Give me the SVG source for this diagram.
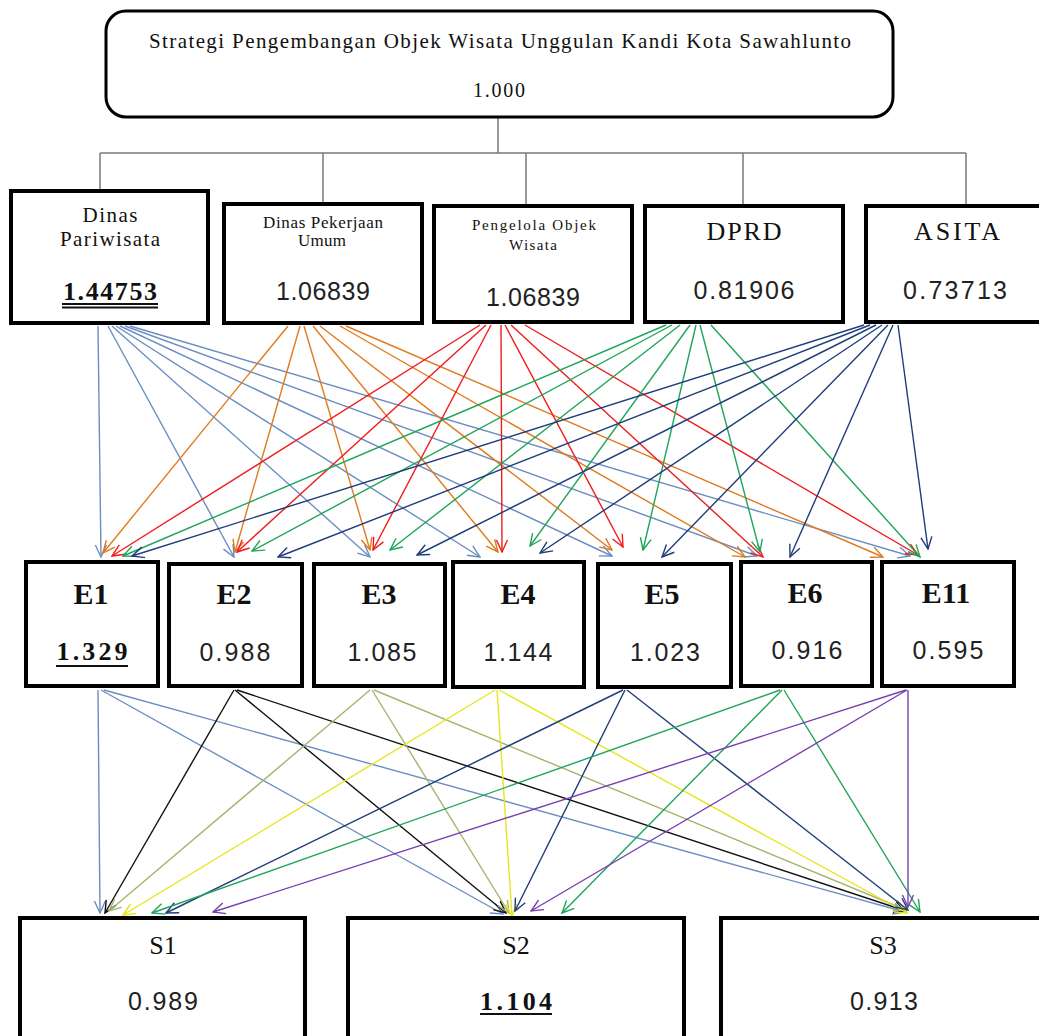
<svg xmlns="http://www.w3.org/2000/svg" width="1039" height="1036" viewBox="0 0 1039 1036">
<style>
.bg{fill:#fff}
.box{fill:#fff;stroke:#000;stroke-width:4}
.top{fill:#fff;stroke:#000;stroke-width:3}
.tree{fill:none;stroke:#7a7a7a;stroke-width:1.5}
.sf{font-family:"Liberation Serif","Times New Roman",serif;fill:#111;text-anchor:middle}
.ss{font-family:"Liberation Sans",Arial,sans-serif;fill:#222;text-anchor:middle;font-size:25px}
.b{font-weight:bold}
.ul{stroke:#111;stroke-width:2}
.c line{stroke-width:1.4;fill:none}
.blue{stroke:#6b8ec2;marker-end:url(#m-blue)}
.orange{stroke:#e07a1f;marker-end:url(#m-orange)}
.red{stroke:#f01c1c;marker-end:url(#m-red)}
.green{stroke:#1fa55a;marker-end:url(#m-green)}
.navy{stroke:#1f3d7a;marker-end:url(#m-navy)}
.black{stroke:#111;marker-end:url(#m-black)}
.olive{stroke:#a3b56e;marker-end:url(#m-olive)}
.yellow{stroke:#e6e620;marker-end:url(#m-yellow)}
.purple{stroke:#7a3fb0;marker-end:url(#m-purple)}
</style>
<defs>
<marker id="m-blue" viewBox="-13 -7 14 14" refX="0" refY="0" markerWidth="14" markerHeight="14" markerUnits="userSpaceOnUse" orient="auto"><path d="M-12,-5.5 L0,0 L-12,5.5" fill="none" stroke="#6b8ec2" stroke-width="1.4"/></marker>
<marker id="m-orange" viewBox="-13 -7 14 14" refX="0" refY="0" markerWidth="14" markerHeight="14" markerUnits="userSpaceOnUse" orient="auto"><path d="M-12,-5.5 L0,0 L-12,5.5" fill="none" stroke="#e07a1f" stroke-width="1.4"/></marker>
<marker id="m-red" viewBox="-13 -7 14 14" refX="0" refY="0" markerWidth="14" markerHeight="14" markerUnits="userSpaceOnUse" orient="auto"><path d="M-12,-5.5 L0,0 L-12,5.5" fill="none" stroke="#f01c1c" stroke-width="1.4"/></marker>
<marker id="m-green" viewBox="-13 -7 14 14" refX="0" refY="0" markerWidth="14" markerHeight="14" markerUnits="userSpaceOnUse" orient="auto"><path d="M-12,-5.5 L0,0 L-12,5.5" fill="none" stroke="#1fa55a" stroke-width="1.4"/></marker>
<marker id="m-navy" viewBox="-13 -7 14 14" refX="0" refY="0" markerWidth="14" markerHeight="14" markerUnits="userSpaceOnUse" orient="auto"><path d="M-12,-5.5 L0,0 L-12,5.5" fill="none" stroke="#1f3d7a" stroke-width="1.4"/></marker>
<marker id="m-black" viewBox="-13 -7 14 14" refX="0" refY="0" markerWidth="14" markerHeight="14" markerUnits="userSpaceOnUse" orient="auto"><path d="M-12,-5.5 L0,0 L-12,5.5" fill="none" stroke="#111" stroke-width="1.4"/></marker>
<marker id="m-olive" viewBox="-13 -7 14 14" refX="0" refY="0" markerWidth="14" markerHeight="14" markerUnits="userSpaceOnUse" orient="auto"><path d="M-12,-5.5 L0,0 L-12,5.5" fill="none" stroke="#a3b56e" stroke-width="1.4"/></marker>
<marker id="m-yellow" viewBox="-13 -7 14 14" refX="0" refY="0" markerWidth="14" markerHeight="14" markerUnits="userSpaceOnUse" orient="auto"><path d="M-12,-5.5 L0,0 L-12,5.5" fill="none" stroke="#e6e620" stroke-width="1.6"/></marker>
<marker id="m-purple" viewBox="-13 -7 14 14" refX="0" refY="0" markerWidth="14" markerHeight="14" markerUnits="userSpaceOnUse" orient="auto"><path d="M-12,-5.5 L0,0 L-12,5.5" fill="none" stroke="#7a3fb0" stroke-width="1.4"/></marker>
</defs>
<rect class="bg" x="0" y="0" width="1039" height="1036"/>

<g id="connectors" class="c">
  <g id="tree">
    <path class="tree" d="M498,118 V153 M100,153 H966 M100,153 V190 M323,153 V203 M526,153 V205 M743,153 V205 M966,153 V205"/>
  </g>
  <g id="l2-to-e">
    <line class="blue" x1="98" y1="326" x2="101" y2="557"/>
    <line class="blue" x1="108" y1="326" x2="234" y2="557"/>
    <line class="blue" x1="112" y1="326" x2="370" y2="557"/>
    <line class="blue" x1="116" y1="326" x2="480" y2="557"/>
    <line class="blue" x1="120" y1="326" x2="612" y2="556"/>
    <line class="blue" x1="125" y1="326" x2="757" y2="556"/>
    <line class="blue" x1="130" y1="326" x2="910" y2="556"/>

    <line class="orange" x1="288" y1="326" x2="103" y2="553"/>
    <line class="orange" x1="300" y1="326" x2="235" y2="552"/>
    <line class="orange" x1="304" y1="326" x2="370" y2="550"/>
    <line class="orange" x1="313" y1="326" x2="498" y2="552"/>
    <line class="orange" x1="320" y1="326" x2="612" y2="550"/>
    <line class="orange" x1="340" y1="326" x2="745" y2="557"/>
    <line class="orange" x1="346" y1="326" x2="883" y2="557"/>

    <line class="red" x1="480" y1="325" x2="112" y2="556"/>
    <line class="red" x1="486" y1="325" x2="237" y2="552"/>
    <line class="red" x1="491" y1="325" x2="373" y2="550"/>
    <line class="red" x1="501" y1="325" x2="502" y2="552"/>
    <line class="red" x1="505" y1="325" x2="623" y2="547"/>
    <line class="red" x1="511" y1="325" x2="763" y2="557"/>
    <line class="red" x1="525" y1="325" x2="918" y2="555"/>

    <line class="green" x1="666" y1="325" x2="123" y2="556"/>
    <line class="green" x1="672" y1="325" x2="252" y2="551"/>
    <line class="green" x1="680" y1="325" x2="390" y2="550"/>
    <line class="green" x1="690" y1="325" x2="530" y2="546"/>
    <line class="green" x1="696" y1="325" x2="643" y2="550"/>
    <line class="green" x1="700" y1="325" x2="760" y2="552"/>
    <line class="green" x1="711" y1="325" x2="920" y2="557"/>

    <line class="navy" x1="864" y1="325" x2="132" y2="556"/>
    <line class="navy" x1="870" y1="325" x2="278" y2="557"/>
    <line class="navy" x1="876" y1="325" x2="417" y2="555"/>
    <line class="navy" x1="882" y1="325" x2="540" y2="553"/>
    <line class="navy" x1="888" y1="325" x2="662" y2="557"/>
    <line class="navy" x1="893" y1="325" x2="790" y2="557"/>
    <line class="navy" x1="898" y1="325" x2="928" y2="549"/>
  </g>
  <g id="e-to-s">
    <line class="blue" x1="98" y1="690" x2="100" y2="913"/>
    <line class="blue" x1="101" y1="690" x2="503" y2="914"/>
    <line class="blue" x1="104" y1="690" x2="905" y2="912"/>

    <line class="black" x1="234" y1="690" x2="105" y2="913"/>
    <line class="black" x1="235" y1="690" x2="506" y2="913"/>
    <line class="black" x1="237" y1="690" x2="906" y2="911"/>

    <line class="olive" x1="370" y1="690" x2="109" y2="911"/>
    <line class="olive" x1="372" y1="690" x2="509" y2="913"/>
    <line class="olive" x1="374" y1="690" x2="906" y2="910"/>

    <line class="yellow" x1="495" y1="690" x2="123" y2="915"/>
    <line class="yellow" x1="497" y1="690" x2="512" y2="916"/>
    <line class="yellow" x1="499" y1="690" x2="907" y2="913"/>

    <line class="navy" x1="623" y1="690" x2="166" y2="913"/>
    <line class="navy" x1="625" y1="690" x2="515" y2="911"/>
    <line class="navy" x1="627" y1="690" x2="908" y2="910"/>

    <line class="green" x1="780" y1="690" x2="152" y2="913"/>
    <line class="green" x1="782" y1="690" x2="562" y2="913"/>
    <line class="green" x1="784" y1="690" x2="920" y2="912"/>

    <line class="purple" x1="906" y1="690" x2="213" y2="912"/>
    <line class="purple" x1="907" y1="690" x2="531" y2="911"/>
    <line class="purple" x1="908" y1="690" x2="908" y2="907"/>
  </g>
</g>

<g id="goal">
  <rect class="top" x="106" y="11" width="787" height="106" rx="20"/>
  <text class="sf" x="500" y="48" font-size="21" textLength="702" lengthAdjust="spacing">Strategi Pengembangan Objek Wisata Unggulan Kandi Kota Sawahlunto</text>
  <text class="sf" x="499" y="97" font-size="20" textLength="52" lengthAdjust="spacing">1.000</text>
</g>

<g id="dinas-pariwisata">
  <rect class="box" x="11" y="191" width="197" height="132"/>
  <text class="sf" x="110" y="222" font-size="21" textLength="55" lengthAdjust="spacing">Dinas</text>
  <text class="sf" x="110" y="246" font-size="21" textLength="100" lengthAdjust="spacing">Pariwisata</text>
  <text class="sf b" x="110" y="300" font-size="26" textLength="94" lengthAdjust="spacing">1.44753</text>
  <line class="ul" x1="62" y1="304" x2="158" y2="304" stroke-width="1.5"/>
  <line class="ul" x1="62" y1="307.5" x2="158" y2="307.5" stroke-width="1.5"/>
</g>

<g id="dinas-pu">
  <rect class="box" x="224" y="204" width="198" height="119"/>
  <text class="sf" x="323" y="228" font-size="17" textLength="120" lengthAdjust="spacing">Dinas Pekerjaan</text>
  <text class="sf" x="322" y="246" font-size="17" textLength="48" lengthAdjust="spacing">Umum</text>
  <text class="ss" x="323" y="300" textLength="94" lengthAdjust="spacing">1.06839</text>
</g>

<g id="pengelola">
  <rect class="box" x="434" y="206" width="198" height="116"/>
  <text class="sf" x="534" y="230" font-size="15" textLength="124" lengthAdjust="spacing">Pengelola Objek</text>
  <text class="sf" x="533" y="250" font-size="15" textLength="48" lengthAdjust="spacing">Wisata</text>
  <text class="ss" x="533" y="306" textLength="94" lengthAdjust="spacing">1.06839</text>
</g>

<g id="dprd">
  <rect class="box" x="645" y="206" width="198" height="116"/>
  <text class="sf" x="744" y="240" font-size="26" textLength="75" lengthAdjust="spacing">DPRD</text>
  <text class="ss" x="744" y="299" textLength="101" lengthAdjust="spacing">0.81906</text>
</g>

<g id="asita">
  <rect class="box" x="866" y="206" width="175" height="116"/>
  <text class="sf" x="957" y="240" font-size="26" textLength="86" lengthAdjust="spacing">ASITA</text>
  <text class="ss" x="955" y="299" textLength="104" lengthAdjust="spacing">0.73713</text>
</g>

<g id="E1">
  <rect class="box" x="26" y="562" width="132" height="124"/>
  <text class="sf b" x="91" y="604" font-size="30">E1</text>
  <text class="sf b" x="92" y="660" font-size="26" textLength="71" lengthAdjust="spacing">1.329</text>
  <line class="ul" x1="56" y1="666" x2="128" y2="666"/>
</g>
<g id="E2">
  <rect class="box" x="169" y="564" width="133" height="122"/>
  <text class="sf b" x="234" y="604" font-size="30">E2</text>
  <text class="ss" x="235" y="661" textLength="71" lengthAdjust="spacing">0.988</text>
</g>
<g id="E3">
  <rect class="box" x="314" y="564" width="131" height="122"/>
  <text class="sf b" x="379" y="604" font-size="30">E3</text>
  <text class="ss" x="382" y="661" textLength="69" lengthAdjust="spacing">1.085</text>
</g>
<g id="E4">
  <rect class="box" x="453" y="562" width="131" height="125"/>
  <text class="sf b" x="518" y="604" font-size="30">E4</text>
  <text class="ss" x="518" y="661" textLength="69" lengthAdjust="spacing">1.144</text>
</g>
<g id="E5">
  <rect class="box" x="598" y="564" width="133" height="123"/>
  <text class="sf b" x="662" y="604" font-size="30">E5</text>
  <text class="ss" x="665" y="661" textLength="70" lengthAdjust="spacing">1.023</text>
</g>
<g id="E6">
  <rect class="box" x="741" y="562" width="131" height="124"/>
  <text class="sf b" x="805" y="603" font-size="30">E6</text>
  <text class="ss" x="807" y="659" textLength="71" lengthAdjust="spacing">0.916</text>
</g>
<g id="E11">
  <rect class="box" x="882" y="562" width="132" height="124"/>
  <text class="sf b" x="946" y="603" font-size="30">E11</text>
  <text class="ss" x="948" y="659" textLength="71" lengthAdjust="spacing">0.595</text>
</g>

<g id="S1">
  <rect class="box" x="20" y="918" width="285" height="130"/>
  <text class="sf" x="163" y="954" font-size="26">S1</text>
  <text class="ss" x="163" y="1010" textLength="70" lengthAdjust="spacing">0.989</text>
</g>
<g id="S2">
  <rect class="box" x="348" y="918" width="336" height="130"/>
  <text class="sf" x="516" y="954" font-size="26">S2</text>
  <text class="sf b" x="516" y="1010" font-size="26" textLength="72" lengthAdjust="spacing">1.104</text>
  <line class="ul" x1="480" y1="1014" x2="552" y2="1014"/>
</g>
<g id="S3">
  <rect class="box" x="721" y="918" width="330" height="130"/>
  <text class="sf" x="883" y="954" font-size="26">S3</text>
  <text class="ss" x="884" y="1010" textLength="68" lengthAdjust="spacing">0.913</text>
</g>
</svg>
